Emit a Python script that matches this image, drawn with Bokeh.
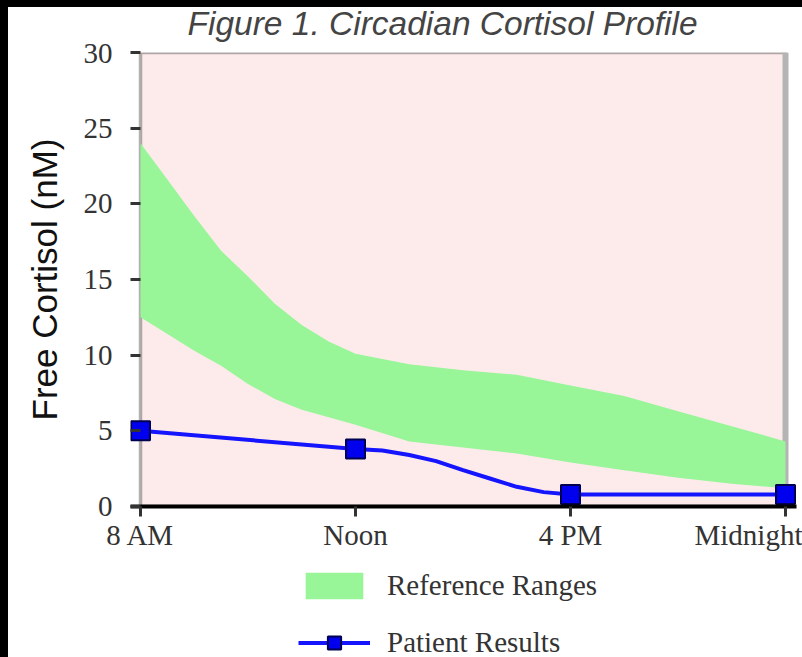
from bokeh.plotting import figure
from bokeh.models import (Span, Legend, LegendItem, FixedTicker, Label, Range1d, Spacer,
                          BoxAnnotation)
from bokeh.layouts import column, row
from bokeh.embed import file_html
from bokeh.resources import INLINE

# ---- data ----
chart_title = "Figure 1.  Circadian Cortisol Profile"
categories = ["8 AM", "Noon", "4 PM", "Midnight"]
patient_values = [5.0, 3.8, 0.8, 0.8]

band_positions = [0, 0.125, 0.25, 0.375, 0.5, 0.625, 0.75, 0.875, 1,
                  1.25, 1.5, 1.75, 2, 2.25, 2.5, 2.75, 3]
band_upper = [24.0, 21.6, 19.2, 16.9, 15.2, 13.4, 12.0, 10.9, 10.1,
              9.4, 9.0, 8.7, 8.0, 7.3, 6.3, 5.3, 4.3]
band_lower = [12.5, 11.4, 10.3, 9.3, 8.1, 7.1, 6.4, 5.9, 5.4,
              4.3, 3.9, 3.5, 2.9, 2.4, 1.9, 1.5, 1.2]

# patient curve as drawn (smoothed between Noon and 4 PM)
patient_curve_positions = [0, 1, 1.125, 1.25, 1.375, 1.5, 1.625, 1.75, 1.875, 2, 3]
patient_curve_values = [5.0, 3.8, 3.7, 3.4, 3.0, 2.4, 1.85, 1.3, 0.95, 0.8, 0.8]

y_ticks = [0, 5, 10, 15, 20, 25, 30]
legend_labels = ["Reference Ranges", "Patient Results"]

BAND_COLOR = "#98f598"
LINE_COLOR = "#1414ff"
PLOT_BG = "#fdebeb"

n_last = len(categories) - 1
step_px = 215.0  # pixels between two categories
BORDER_L, BORDER_R = 122, 6

# ---- title strip (pixel-like ranges: x = page column, y grows downward) ----
tf = figure(width=794, height=36, output_backend="svg", toolbar_location=None,
            x_range=Range1d(130, 796), y_range=Range1d(43, 7),
            x_axis_location=None, y_axis_location=None, min_border=0,
            min_border_left=BORDER_L, min_border_right=BORDER_R)
tf.grid.visible = False
tf.outline_line_color = None
tf.background_fill_color = "white"
tf.border_fill_color = "white"
tf.add_layout(Label(x=187, y=23, text=chart_title, text_align="left",
                    text_baseline="middle", text_font="Liberation Sans",
                    text_font_style="italic", text_font_size="33.5px",
                    text_color="#444444"))

# ---- main figure ----
# frame reaches 10 px past the first / last category so the end markers are not clipped
p = figure(width=794, height=514, output_backend="svg", toolbar_location=None,
           x_range=Range1d(-10 / step_px, n_last + 11 / step_px),
           y_range=Range1d(0, max(y_ticks)),
           min_border_left=BORDER_L, min_border_right=BORDER_R, min_border_top=9,
           min_border_bottom=51)
p.background_fill_color = "white"
p.border_fill_color = "white"
p.outline_line_color = None
p.grid.visible = False

# plot area: pink box with dark border, grey right edge
p.add_layout(BoxAnnotation(left=0, right=n_last, bottom=0, top=max(y_ticks),
                           fill_color=PLOT_BG, fill_alpha=1.0,
                           line_color="black", line_width=3.5, level="underlay"))
p.add_layout(Span(location=n_last, dimension="height", line_color="#b4b4b4",
                  line_width=6, level="underlay"))

p.varea(x=band_positions, y1=band_lower, y2=band_upper, fill_color=BAND_COLOR)
p.line(x=patient_curve_positions, y=patient_curve_values,
       line_color=LINE_COLOR, line_width=4)
p.scatter(x=list(range(len(categories))), y=patient_values, marker="square",
          size=19, fill_color="#0000ee", line_color="#000050", line_width=2)

for ax in (p.xaxis[0], p.yaxis[0]):
    ax.major_tick_line_width = 3
    ax.major_tick_line_color = "#333333"
    ax.minor_tick_line_color = None
    ax.major_label_text_font = "Liberation Serif"
    ax.major_label_text_font_size = "29px"
    ax.major_label_text_color = "#333333"

p.xaxis.axis_line_color = "black"
p.xaxis.axis_line_width = 4
p.xaxis.major_tick_out = 10
p.xaxis.major_tick_in = 0
p.xaxis.ticker = FixedTicker(ticks=list(range(len(categories))))
p.xaxis.major_label_overrides = {i: c for i, c in enumerate(categories)}
p.xaxis.major_label_standoff = 2

p.yaxis.axis_line_color = None
p.yaxis.major_tick_out = 0
p.yaxis.major_tick_in = 10
p.yaxis.ticker = FixedTicker(ticks=y_ticks)
p.yaxis.major_label_standoff = 18
p.yaxis.axis_label = "Free Cortisol (nM)"
p.yaxis.axis_label_text_font = "Liberation Sans"
p.yaxis.axis_label_text_font_style = "normal"
p.yaxis.axis_label_text_font_size = "35px"
p.yaxis.axis_label_text_color = "#111111"
p.yaxis.axis_label_standoff = 17

# ---- legend strip below the chart ----
lg = figure(width=794, height=100, output_backend="svg", toolbar_location=None,
            x_range=Range1d(100, 101), y_range=Range1d(100, 101),
            x_axis_location=None, y_axis_location=None, min_border=0,
            min_border_left=BORDER_L, min_border_right=BORDER_R)
lg.grid.visible = False
lg.outline_line_color = None
lg.background_fill_color = "white"
lg.border_fill_color = "white"
# same series drawn out of view; only their legend keys show
key_band = lg.varea(x=band_positions, y1=band_lower, y2=band_upper, fill_color=BAND_COLOR)
key_line = lg.line(x=patient_curve_positions, y=patient_curve_values,
                   line_color=LINE_COLOR, line_width=4)
key_mark = lg.scatter(x=list(range(len(categories))), y=patient_values, marker="square",
                      size=19, fill_color="#0000ee", line_color="#000050", line_width=2)
legend = Legend(items=[LegendItem(label=legend_labels[0], renderers=[key_band]),
                       LegendItem(label=legend_labels[1], renderers=[key_line, key_mark])],
                location=(168, -2), padding=0, margin=0, spacing=24,
                glyph_width=72, glyph_height=33, label_height=33, label_standoff=17,
                label_text_font="Liberation Serif", label_text_font_size="29px",
                label_text_color="#333333",
                border_line_alpha=0, background_fill_alpha=0)
lg.add_layout(legend, "center")

page = column(
    Spacer(width=802, height=7, styles={"background-color": "black"}),
    row(Spacer(width=8, height=650, styles={"background-color": "black"}),
        column(tf, p, lg, spacing=0), spacing=0),
    spacing=0)

open("out.html", "w").write(file_html(page, INLINE))
